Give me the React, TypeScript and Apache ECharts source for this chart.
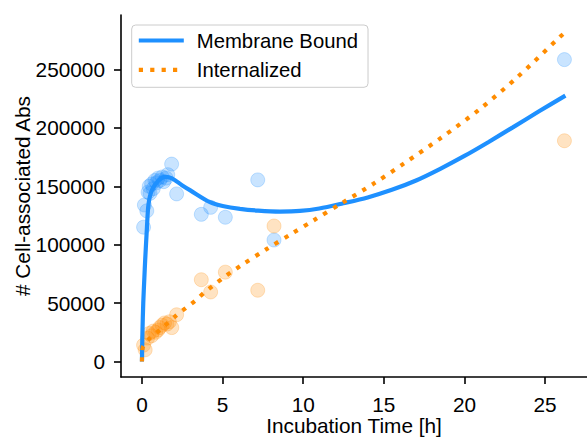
import React, { useEffect, useRef } from "react";
import * as echarts from "echarts";

// Measured data points (time [h], count)
const membraneTimes = [0.1, 0.15, 0.3, 0.38, 0.45, 0.5, 0.6, 0.7, 0.8, 0.9, 1.0, 1.1, 1.25, 1.35, 1.5, 1.6, 1.84, 2.15, 3.68, 4.26, 5.17, 7.18, 8.19, 26.2];
const membraneValues = [115000, 134000, 129000, 145000, 150000, 144000, 152000, 148000, 155000, 153000, 157000, 155000, 158000, 154000, 157000, 160000, 169000, 143500, 126000, 132000, 123500, 155500, 104000, 258500];

const internalTimes = [0.1, 0.2, 0.35, 0.45, 0.6, 0.7, 0.85, 1.0, 1.1, 1.25, 1.4, 1.55, 1.7, 1.85, 2.15, 3.68, 4.26, 5.17, 7.18, 8.19, 26.2];
const internalValues = [14000, 10000, 20000, 24000, 22000, 26000, 25000, 27000, 29000, 31000, 33000, 32000, 34000, 29000, 40000, 70000, 59500, 76500, 61000, 116000, 189000];

// Fitted curves
const membraneFitTimes = [0, 0.03, 0.08, 0.15, 0.2, 0.31, 0.41, 0.62, 1.03, 1.45, 1.86, 2.48, 3.0, 4.22, 5.0, 6.08, 7.2, 8.56, 9.8, 11.0, 12.49, 14.0, 15.5, 17.0, 18.5, 20.0, 21.5, 23.0, 24.6, 26.26];
const membraneFitValues = [0, 25000, 50000, 72000, 87000, 115000, 135000, 146800, 155000, 158000, 156800, 151000, 146500, 136400, 133200, 130700, 129200, 128400, 128900, 131000, 135500, 140500, 147000, 155000, 165000, 176000, 188000, 200500, 214000, 227700];

const internalFitTimes = [0, 0.02, 0.08, 0.5, 1.12, 2.15, 2.73, 3.29, 3.85, 4.4, 5.0, 5.56, 6.18, 7.7, 9.3, 10.63, 12.49, 14.35, 16.21, 18.6, 20.97, 23.24, 25.93, 26.26];
const internalFitValues = [0, 9000, 13000, 20000, 27000, 39700, 45900, 51900, 58800, 64800, 71200, 76800, 82500, 96000, 109500, 120700, 136400, 152100, 169200, 192000, 216300, 242900, 278000, 282000];

const xTicks = [0, 5, 10, 15, 20, 25];
const yTicks = [0, 50000, 100000, 150000, 200000, 250000];

const BLUE = "#1E90FF";
const ORANGE = "#FF8C00";
const FONT = "Liberation Sans";
const FS = 20.8;

const zip = (xs: number[], ys: number[]) => xs.map((x, i) => [x, ys[i]]);

export default function App() {
  const ref = useRef<HTMLDivElement>(null);
  useEffect(() => {
    if (!ref.current) return;
    const chart = echarts.init(ref.current, undefined, { renderer: "svg" });
    chart.setOption({
      animation: false,
      backgroundColor: "#fff",
      textStyle: { fontFamily: FONT },
      grid: { left: 121, top: 15, right: 0, bottom: 61, containLabel: false, outerBoundsMode: "none" },
      legend: {
        data: ["Membrane Bound", "Internalized"],
        orient: "vertical",
        left: 131.7,
        top: 25,
        padding: [4, 10, 6, 5],
        itemWidth: 45,
        itemHeight: 14,
        itemGap: 6.3,
        borderColor: "#cccccc",
        borderWidth: 1,
        borderRadius: 4,
        backgroundColor: "#ffffff",
        itemStyle: { opacity: 0 },
        lineStyle: { width: 4.2 },
        textStyle: { fontFamily: FONT, fontSize: 20.3, color: "#000", lineHeight: 23, padding: [0, 0, 0, 8] },
      },
      xAxis: {
        type: "value",
        min: -1.3,
        max: 27.6,
        name: "Incubation Time [h]",
        nameLocation: "middle",
        nameGap: 38,
        nameMoveOverlap: false,
        nameTextStyle: { fontFamily: FONT, fontSize: FS, color: "#000", lineHeight: 21 },
        axisLine: { show: true, onZero: false, lineStyle: { color: "#000", width: 1.6 } },
        axisTick: { show: true, length: 7, lineStyle: { color: "#000", width: 1.6 }, customValues: xTicks },
        axisLabel: { fontFamily: FONT, fontSize: FS, color: "#000", margin: 17, customValues: xTicks, formatter: (v: number) => String(v) },
        splitLine: { show: false },
      },
      yAxis: {
        type: "value",
        min: -13300,
        max: 296700,
        name: "# Cell-associated Abs",
        nameLocation: "middle",
        nameGap: 88,
        nameRotate: 90,
        nameMoveOverlap: false,
        nameTextStyle: { fontFamily: FONT, fontSize: FS, color: "#000" },
        axisLine: { show: true, onZero: false, lineStyle: { color: "#000", width: 1.6 } },
        axisTick: { show: true, length: 7, lineStyle: { color: "#000", width: 1.6 }, customValues: yTicks },
        axisLabel: { fontFamily: FONT, fontSize: FS, color: "#000", margin: 16, customValues: yTicks, formatter: (v: number) => String(v) },
        splitLine: { show: false },
      },
      series: [
        {
          name: "Membrane points",
          type: "scatter",
          data: zip(membraneTimes, membraneValues),
          symbolSize: 14,
          itemStyle: { color: "rgba(30,144,255,0.3)", borderColor: "rgba(30,144,255,0.3)", borderWidth: 1 },
          z: 1,
        },
        {
          name: "Internalized points",
          type: "scatter",
          data: zip(internalTimes, internalValues),
          symbolSize: 14,
          itemStyle: { color: "rgba(255,140,0,0.3)", borderColor: "rgba(255,140,0,0.3)", borderWidth: 1 },
          z: 1,
        },
        {
          name: "Membrane Bound",
          type: "line",
          data: zip(membraneFitTimes, membraneFitValues),
          showSymbol: false,
          symbol: "none",
          smooth: 0.3,
          lineStyle: { color: BLUE, width: 4.2 },
          itemStyle: { color: BLUE },
          z: 3,
        },
        {
          name: "Internalized",
          type: "line",
          data: zip(internalFitTimes, internalFitValues),
          showSymbol: false,
          symbol: "none",
          smooth: 0.3,
          lineStyle: { color: ORANGE, width: 4.2, type: [4.2, 7.2], cap: "butt" },
          itemStyle: { color: ORANGE },
          z: 4,
        },
      ],
    });
    return () => chart.dispose();
  }, []);
  return <div ref={ref} style={{ position: "fixed", left: 0, top: 0, width: 587, height: 438 }} />;
}
